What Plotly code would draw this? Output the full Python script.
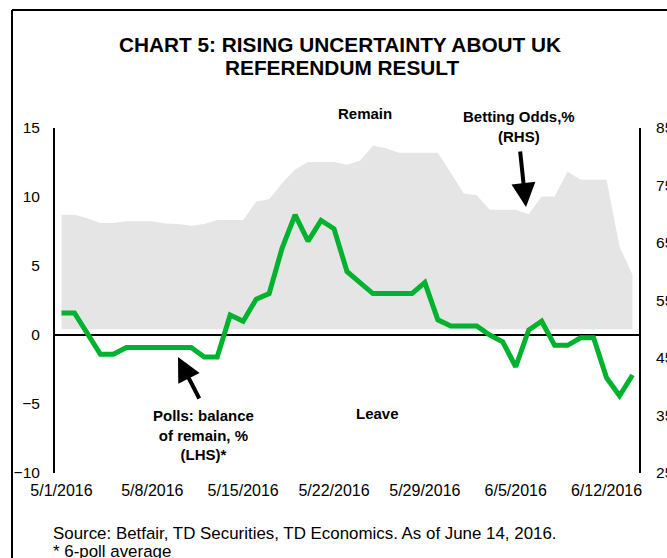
import plotly.graph_objects as go
import pandas as pd

dates = pd.date_range("2016-05-01", "2016-06-14", freq="D")

polls_balance = [1.6, 1.6, 0.1, -1.4, -1.4, -0.9, -0.9, -0.9, -0.9, -0.9,
                 -0.9, -1.6, -1.6, 1.45, 1.0, 2.6, 3.0, 6.3, 8.7, 6.8,
                 8.3, 7.7, 4.6, 3.8, 3.0, 3.0, 3.0, 3.0, 3.8, 1.1,
                 0.65, 0.65, 0.65, 0.0, -0.5, -2.3, 0.36, 1.0, -0.75, -0.75,
                 -0.2, -0.2, -3.1, -4.4, -2.9]

betting_odds = [69.9, 69.9, 69.3, 68.5, 68.5, 68.8, 68.8, 68.8, 68.4, 68.3,
                68.0, 68.3, 69.0, 69.0, 69.0, 72.2, 72.6, 75.4, 77.8, 79.1,
                79.1, 79.1, 78.6, 79.3, 81.9, 81.5, 80.7, 80.7, 80.7, 80.7,
                77.2, 73.6, 73.3, 70.8, 70.8, 70.8, 70.0, 73.1, 73.1, 77.4,
                76.0, 76.0, 76.0, 64.4, 59.5]

area_base = 50
tick_dates = ["2016-05-01", "2016-05-08", "2016-05-15", "2016-05-22",
              "2016-05-29", "2016-06-05", "2016-06-12"]
tick_labels = ["5/1/2016", "5/8/2016", "5/15/2016", "5/22/2016",
               "5/29/2016", "6/5/2016", "6/12/2016"]

FONT = "Arial, Liberation Sans, sans-serif"
W, H = 667, 558
L, R, T, B = 55, 28, 128, 85
PW, PH = W - L - R, H - T - B


def px(x):
    return (x - L) / PW


def py(y):
    return (H - B - y) / PH


fig = go.Figure()

# betting odds area (primary y axis, shown on the right)
fig.add_trace(go.Scatter(x=dates, y=[area_base] * len(dates), yaxis="y",
                         mode="lines", line=dict(width=0, color="rgba(0,0,0,0)"),
                         hoverinfo="skip", showlegend=False))
fig.add_trace(go.Scatter(x=dates, y=betting_odds, yaxis="y", mode="lines",
                         line=dict(width=0, color="#E5E5E5"), fill="tonexty",
                         fillcolor="#E5E5E5", showlegend=False,
                         name="Betting Odds,% (RHS)"))
# polls line (overlay axis, shown on the left) drawn on top
fig.add_trace(go.Scatter(x=dates, y=polls_balance, yaxis="y2", mode="lines",
                         line=dict(width=5, color="#00B22D"), showlegend=False,
                         name="Polls: balance of remain, % (LHS)*"))

annotations = []


def txt(text, x, y, size=15, bold=True, xanchor="center"):
    t = f"<b>{text}</b>" if bold else text
    annotations.append(dict(text=t, x=px(x), y=py(y), xref="paper", yref="paper",
                            showarrow=False, xanchor=xanchor, yanchor="middle",
                            font=dict(family=FONT, size=size, color="black")))


txt("CHART 5: RISING UNCERTAINTY ABOUT UK", 340, 45, size=20.8)
txt("REFERENDUM RESULT", 342, 68, size=20.8)
txt("Remain", 365, 113)
txt("Betting Odds,%<br>(RHS)", 519, 127)
txt("Polls: balance<br>of remain, %<br>(LHS)*", 203, 435)
txt("Leave", 377, 413)
txt("Source: Betfair, TD Securities, TD Economics. As of June 14, 2016.", 51, 533,
    size=16.9, bold=False, xanchor="left")
txt("* 6-poll average", 51, 551, size=16.9, bold=False, xanchor="left")

# arrows
annotations.append(dict(text="", x=px(178), y=py(357), xref="paper", yref="paper",
                        showarrow=True, arrowhead=2, arrowsize=1.2, arrowwidth=4,
                        arrowcolor="black", ax=22, ay=43))
annotations.append(dict(text="", x=px(526), y=py(207), xref="paper", yref="paper",
                        showarrow=True, arrowhead=2, arrowsize=1.2, arrowwidth=4,
                        arrowcolor="black", ax=-6, ay=-57))

shapes = [
    dict(type="line", xref="paper", yref="paper", x0=px(12), x1=px(700),
         y0=py(10), y1=py(10), line=dict(color="black", width=2)),
    dict(type="line", xref="paper", yref="paper", x0=px(12), x1=px(12),
         y0=py(10), y1=py(620), line=dict(color="black", width=2)),
]

fig.update_layout(
    width=W, height=H,
    margin=dict(l=L, r=R, t=T, b=B, pad=0, autoexpand=False),
    paper_bgcolor="white", plot_bgcolor="white",
    font=dict(family=FONT, size=15, color="black"),
    showlegend=False,
    annotations=annotations,
    shapes=shapes,
    xaxis=dict(range=["2016-04-30 12:00", "2016-06-14 12:00"],
               tickvals=tick_dates, ticktext=tick_labels,
               showgrid=False, zeroline=False, showline=False, automargin=False,
               ticks="", tickfont=dict(size=16), ticklabelstandoff=6),
    yaxis=dict(range=[25, 85], tickvals=[25, 35, 45, 55, 65, 75, 85],
               side="right", showgrid=False, zeroline=False, automargin=False,
               showline=True, linecolor="black", linewidth=2, ticks="",
               tickfont=dict(size=15.5), ticklabelstandoff=12),
    yaxis2=dict(range=[-10, 15], tickvals=[-10, -5, 0, 5, 10, 15],
                overlaying="y", side="left", automargin=False,
                showgrid=False, zeroline=True, zerolinecolor="black",
                zerolinewidth=2, showline=True, linecolor="black", linewidth=2,
                ticks="", tickfont=dict(size=15.5), ticklabelstandoff=10),
)

fig.write_html("out.html")
